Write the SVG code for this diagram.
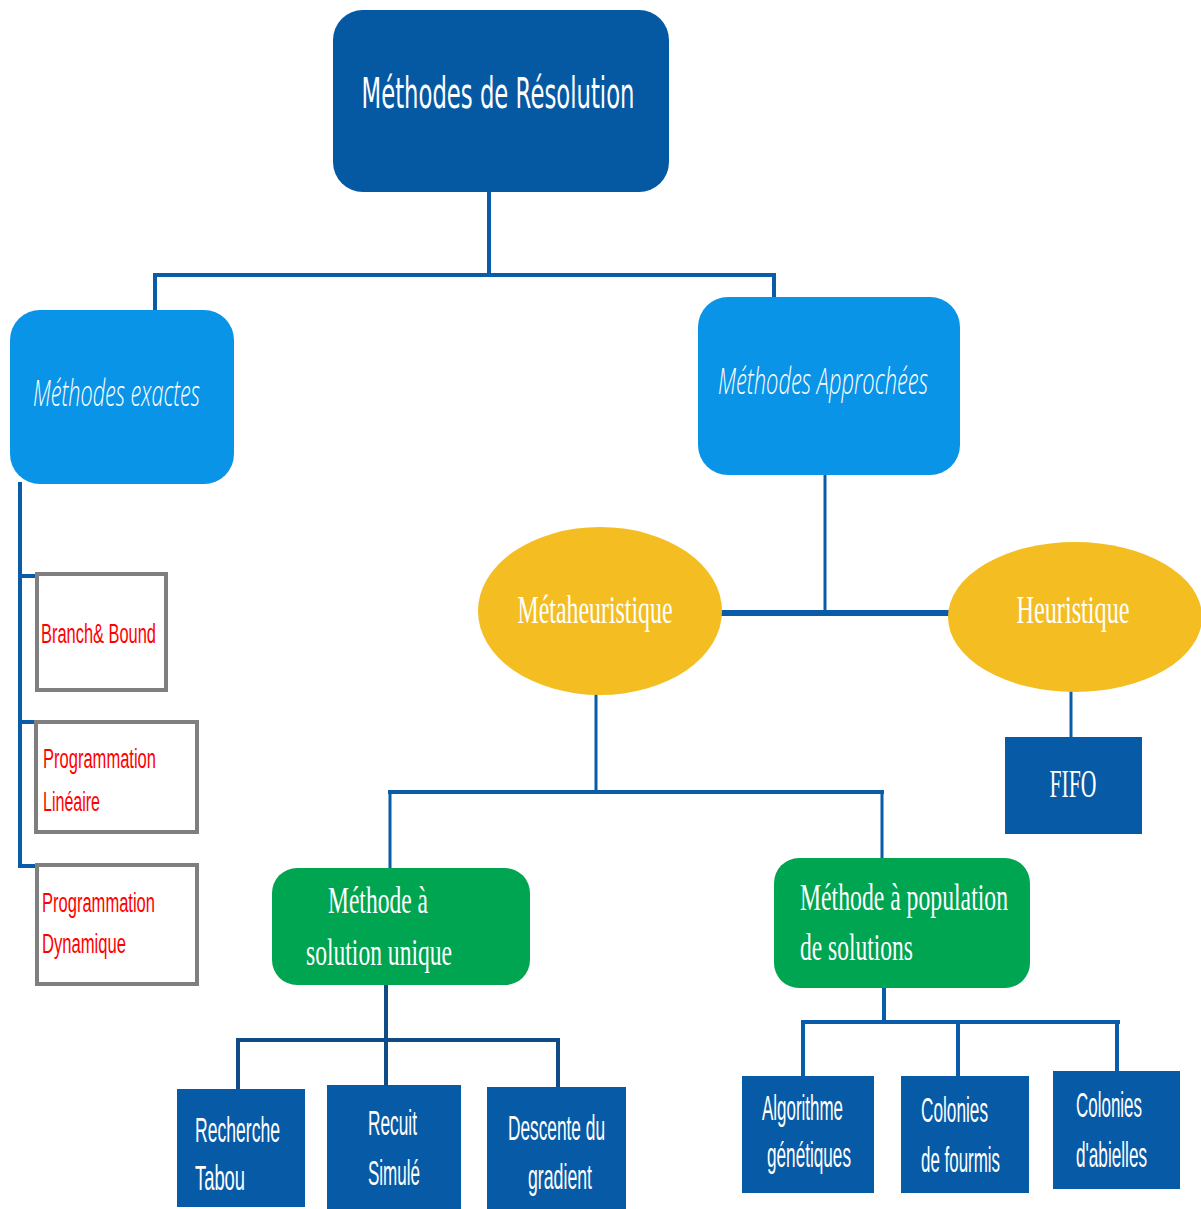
<svg xmlns="http://www.w3.org/2000/svg" width="1201" height="1209" viewBox="0 0 1201 1209">
  <style>
    .root { fill: #0559A3; }
    .cat { fill: #0A94E8; }
    .oval { fill: #F4BE23; }
    .grp { fill: #00A551; }
    .leaf { fill: #075AA5; }
    .exact { fill: #FFFFFF; stroke: #7F7F7F; stroke-width: 4; }
    .wire { fill: none; stroke: #0A5CA8; stroke-width: 4; stroke-linecap: square; }
    .wire.thin { stroke-width: 3; }
    .wire.thick { stroke-width: 6; stroke-linecap: butt; }
    .wire.dark { stroke: #0F4C85; }
    .t-root { font-family: "DejaVu Sans", sans-serif; font-size: 42px; fill: #FFFFFF; }
    .t-cat { font-family: "Open Sans", "DejaVu Sans", sans-serif; font-style: italic; font-weight: 300; font-size: 36px; fill: #FFFFFF; }
    .t-serif { font-family: "Liberation Serif", serif; font-size: 40px; fill: #FFFFFF; }
    .t-green { font-family: "Liberation Serif", serif; font-size: 38px; fill: #FFFFFF; }
    .t-leaf { font-family: "Liberation Sans", sans-serif; font-size: 36px; fill: #FFFFFF; }
    .t-red { font-family: "Liberation Sans", sans-serif; font-size: 27px; fill: #FF0000; }
  </style>

  <!-- connectors -->
  <g id="connectors">
    <path class="wire" d="M489 192 V275 M155 275 H774 M155 275 V310 M774 275 V297"/>
    <path class="wire" d="M20 484 V866"/>
    <path class="wire" stroke-width="5" d="M20 576 H36 M20 722 H36 M20 866 H36"/>
    <path class="wire thin" d="M825 475 V612"/>
    <path class="wire thick" d="M720 613 H950"/>
    <path class="wire thin" d="M1071 692 V737"/>
    <path class="wire thin" d="M596 695 V792 M390 792 V868 M882 792 V858"/>
    <path class="wire" stroke-width="5" d="M390 792 H882"/>
    <path class="wire dark" d="M386 985 V1086 M238 1040 H558 M238 1040 V1090 M558 1040 V1088"/>
    <path class="wire" d="M884 988 V1022 M803 1022 H1118 M803 1022 V1077 M958 1022 V1077 M1117 1022 V1072"/>
  </g>

  <g id="root">
    <rect class="root" x="333" y="10" width="336" height="182" rx="30"/>
    <text class="t-root" x="498" y="108" text-anchor="middle" textLength="273" lengthAdjust="spacingAndGlyphs">Méthodes de Résolution</text>
  </g>

  <g id="exactes">
    <rect class="cat" x="10" y="310" width="224" height="174" rx="30"/>
    <text class="t-cat" x="33" y="406" textLength="167" lengthAdjust="spacingAndGlyphs">Méthodes exactes</text>
  </g>

  <g id="approchees">
    <rect class="cat" x="698" y="297" width="262" height="178" rx="30"/>
    <text class="t-cat" x="718" y="394" textLength="210" lengthAdjust="spacingAndGlyphs">Méthodes Approchées</text>
  </g>

  <g id="branch-bound">
    <rect class="exact" x="37" y="574" width="129" height="116"/>
    <text class="t-red" x="41" y="643" textLength="115" lengthAdjust="spacingAndGlyphs">Branch&amp; Bound</text>
  </g>

  <g id="prog-lineaire">
    <rect class="exact" x="36" y="722" width="161" height="110"/>
    <text class="t-red" x="43" y="768" textLength="113" lengthAdjust="spacingAndGlyphs">Programmation</text>
    <text class="t-red" x="43" y="811" textLength="57" lengthAdjust="spacingAndGlyphs">Linéaire</text>
  </g>

  <g id="prog-dynamique">
    <rect class="exact" x="37" y="865" width="160" height="119"/>
    <text class="t-red" x="42" y="912" textLength="113" lengthAdjust="spacingAndGlyphs">Programmation</text>
    <text class="t-red" x="42" y="953" textLength="84" lengthAdjust="spacingAndGlyphs">Dynamique</text>
  </g>

  <g id="metaheuristique">
    <ellipse class="oval" cx="600" cy="611" rx="122" ry="84"/>
    <text class="t-serif" x="595" y="623" text-anchor="middle" textLength="155" lengthAdjust="spacingAndGlyphs">Métaheuristique</text>
  </g>

  <g id="heuristique">
    <ellipse class="oval" cx="1075" cy="617" rx="127" ry="75"/>
    <text class="t-serif" x="1073" y="623" text-anchor="middle" textLength="113" lengthAdjust="spacingAndGlyphs">Heuristique</text>
  </g>

  <g id="fifo">
    <rect class="leaf" x="1005" y="737" width="137" height="97"/>
    <text class="t-serif" x="1073" y="797" text-anchor="middle" textLength="47" lengthAdjust="spacingAndGlyphs">FIFO</text>
  </g>

  <g id="solution-unique">
    <rect class="grp" x="272" y="868" width="258" height="117" rx="25"/>
    <text class="t-green" x="328" y="913" textLength="100" lengthAdjust="spacingAndGlyphs">Méthode à</text>
    <text class="t-green" x="306" y="965" textLength="146" lengthAdjust="spacingAndGlyphs">solution unique</text>
  </g>

  <g id="population">
    <rect class="grp" x="774" y="858" width="256" height="130" rx="25"/>
    <text class="t-green" x="800" y="910" textLength="208" lengthAdjust="spacingAndGlyphs">Méthode à population</text>
    <text class="t-green" x="800" y="960" textLength="113" lengthAdjust="spacingAndGlyphs">de solutions</text>
  </g>

  <!-- leaf labels are set in a horizontally condensed face: scale(0.5 1), lengths doubled -->
  <g id="recherche-tabou">
    <rect class="leaf" x="177" y="1089" width="128" height="118"/>
    <text class="t-leaf" transform="translate(195 1142) scale(0.5 1)" textLength="170" lengthAdjust="spacingAndGlyphs">Recherche</text>
    <text class="t-leaf" transform="translate(195 1190) scale(0.5 1)" textLength="100" lengthAdjust="spacingAndGlyphs">Tabou</text>
  </g>

  <g id="recuit-simule">
    <rect class="leaf" x="327" y="1085" width="134" height="124"/>
    <text class="t-leaf" transform="translate(368 1135) scale(0.5 1)" textLength="98" lengthAdjust="spacingAndGlyphs">Recuit</text>
    <text class="t-leaf" transform="translate(368 1185) scale(0.5 1)" textLength="104" lengthAdjust="spacingAndGlyphs">Simulé</text>
  </g>

  <g id="descente-gradient">
    <rect class="leaf" x="487" y="1087" width="139" height="122"/>
    <text class="t-leaf" transform="translate(508 1140) scale(0.5 1)" textLength="194" lengthAdjust="spacingAndGlyphs">Descente du</text>
    <text class="t-leaf" transform="translate(528 1189) scale(0.5 1)" textLength="128" lengthAdjust="spacingAndGlyphs">gradient</text>
  </g>

  <g id="algo-genetiques">
    <rect class="leaf" x="742" y="1076" width="132" height="117"/>
    <text class="t-leaf" transform="translate(762 1120) scale(0.5 1)" textLength="162" lengthAdjust="spacingAndGlyphs">Algorithme</text>
    <text class="t-leaf" transform="translate(767 1167) scale(0.5 1)" textLength="168" lengthAdjust="spacingAndGlyphs">génétiques</text>
  </g>

  <g id="colonies-fourmis">
    <rect class="leaf" x="901" y="1076" width="128" height="117"/>
    <text class="t-leaf" transform="translate(921 1122) scale(0.5 1)" textLength="134" lengthAdjust="spacingAndGlyphs">Colonies</text>
    <text class="t-leaf" transform="translate(921 1172) scale(0.5 1)" textLength="158" lengthAdjust="spacingAndGlyphs">de fourmis</text>
  </g>

  <g id="colonies-abeilles">
    <rect class="leaf" x="1053" y="1071" width="127" height="118"/>
    <text class="t-leaf" transform="translate(1076 1117) scale(0.5 1)" textLength="132" lengthAdjust="spacingAndGlyphs">Colonies</text>
    <text class="t-leaf" transform="translate(1076 1167) scale(0.5 1)" textLength="142" lengthAdjust="spacingAndGlyphs">d'abielles</text>
  </g>
</svg>
